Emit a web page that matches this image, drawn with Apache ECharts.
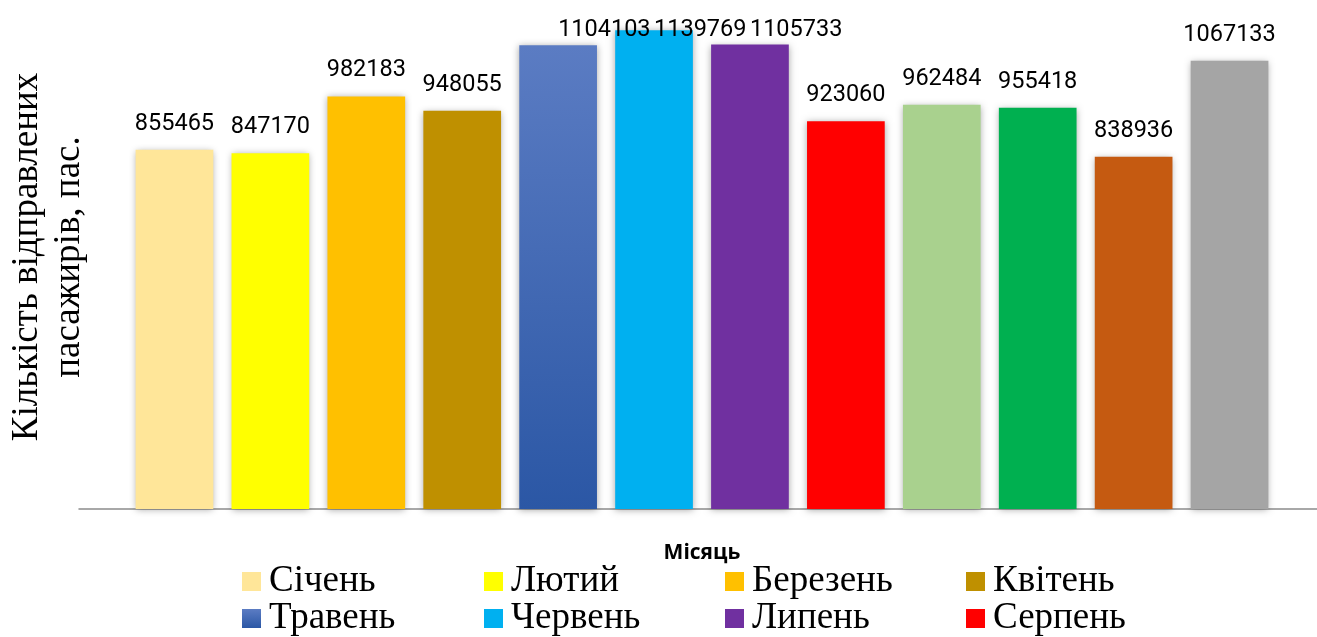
<!DOCTYPE html>
<html>
<head>
<meta charset="utf-8">
<script src="https://cdn.jsdelivr.net/npm/echarts@6/dist/echarts.min.js"></script>
<style>
  html, body { margin: 0; padding: 0; background: #fff; }
  #chart { width: 1317px; height: 637px; }
</style>
</head>
<body>
<div id="chart"></div>
<script>
// Passengers dispatched per month
const months = ['Січень', 'Лютий', 'Березень', 'Квітень', 'Травень', 'Червень',
                'Липень', 'Серпень', 'Вересень', 'Жовтень', 'Листопад', 'Грудень'];
const passengers = [855465, 847170, 982183, 948055, 1104103, 1139769,
                    1105733, 923060, 962484, 955418, 838936, 1067133];
const monthColors = ['#FFE699', '#FFFF00', '#FFC000', '#BF9000', null, '#00B0F0',
                     '#7030A0', '#FF0000', '#A9D18E', '#00B050', '#C55A11', '#A5A5A5'];
const yTitle = 'Кількість відправлених\nпасажирів, пас.';
const xTitle = 'Місяць';

// May is drawn with a vertical blue gradient
const mayGradient = new echarts.graphic.LinearGradient(0, 0, 0, 1, [
  { offset: 0, color: '#5B7CC3' },
  { offset: 1, color: '#2B57A5' }
]);

// Value labels never rise above this line; taller bars get their label overlapping the bar
const LABEL_TOP_LIMIT = 18;

const series = months.map((m, i) => ({
  name: m,
  type: 'bar',
  stack: 'month',
  barCategoryGap: '19%',
  data: passengers.map((v, j) => (j === i ? v : '-')),
  itemStyle: {
    color: i === 4 ? mayGradient : monthColors[i],
    shadowBlur: 7,
    shadowColor: 'rgba(0,0,0,0.35)',
    shadowOffsetX: 0,
    shadowOffsetY: 1
  },
  label: {
    show: true,
    position: 'top',
    distance: 14,
    fontFamily: 'Roboto',
    fontSize: 23.5,
    color: '#000'
  },
  labelLayout: function (params) {
    const r = params.labelRect;
    if (r.y < LABEL_TOP_LIMIT) {
      return { y: LABEL_TOP_LIMIT, verticalAlign: 'top' };
    }
    return {};
  }
}));

// Baseline of the category axis, spanning the full plot width
series.push({
  type: 'line',
  xAxisIndex: 1,
  yAxisIndex: 1,
  data: [],
  silent: true
});

// Legend laid out in four columns
const colLeft = [242, 484, 725, 966];
const legends = colLeft.map((left, c) => ({
  orient: 'vertical',
  left: left,
  top: 563,
  height: 200,
  padding: 0,
  itemWidth: 19,
  itemHeight: 19,
  itemGap: 0,
  icon: 'rect',
  selectedMode: false,
  data: [months[c], months[c + 4], months[c + 8]],
  textStyle: {
    fontFamily: 'Liberation Serif',
    fontSize: 37,
    color: '#000',
    padding: [0, 0, 0, 3]
  },
  itemStyle: { shadowBlur: 0 }
}));

const chart = echarts.init(document.getElementById('chart'), null, { renderer: 'canvas' });
chart.setOption({
  animation: false,
  backgroundColor: '#fff',
  legend: legends,
  grid: [
    { left: 126.5, right: 39.5, top: 5, bottom: 128, outerBoundsMode: 'none' },
    { left: 79, right: 0, top: 5, bottom: 128, outerBoundsMode: 'none' }
  ],
  xAxis: [
    {
      type: 'category',
      gridIndex: 0,
      data: months,
      axisLine: { show: false },
      axisTick: { show: false },
      axisLabel: { show: false },
      name: xTitle,
      nameLocation: 'middle',
      nameGap: 34,
      nameTextStyle: {
        fontFamily: 'Open Sans',
        fontWeight: 'bold',
        fontSize: 21,
        color: '#000'
      }
    },
    {
      type: 'value',
      gridIndex: 1,
      min: 0,
      max: 1,
      axisLine: { show: true, lineStyle: { color: '#8C8C8C', width: 1.5 } },
      axisTick: { show: false },
      axisLabel: { show: false },
      splitLine: { show: false }
    }
  ],
  yAxis: [
    {
      type: 'value',
      gridIndex: 0,
      min: 0,
      max: 1200000,
      axisLine: { show: false },
      axisTick: { show: false },
      axisLabel: { show: false },
      splitLine: { show: false },
      name: yTitle,
      nameLocation: 'middle',
      nameGap: 36,
      nameTextStyle: {
        fontFamily: 'Liberation Serif',
        fontSize: 37,
        lineHeight: 42,
        color: '#000'
      }
    },
    {
      type: 'value',
      gridIndex: 1,
      min: 0,
      max: 1,
      show: false
    }
  ],
  series: series
});
</script>
</body>
</html>
